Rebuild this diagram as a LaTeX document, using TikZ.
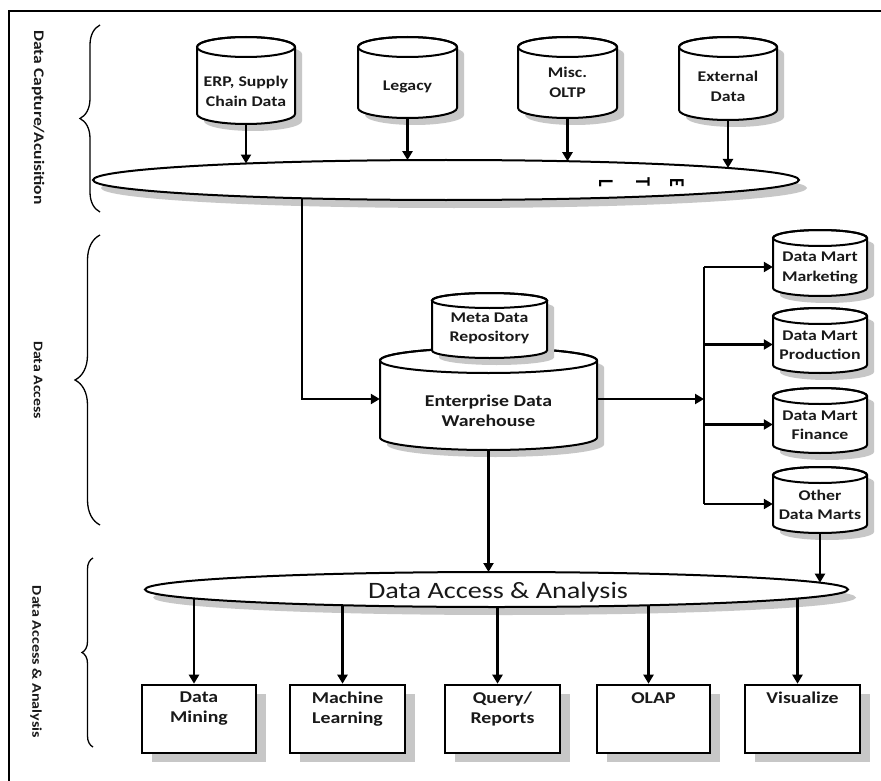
\documentclass[tikz,border=0pt]{standalone}
\usepackage{fontspec}
\setmainfont{Carlito}[FakeStretch=1.2]
\usetikzlibrary{arrows.meta,shapes.geometric,shadows,decorations.pathreplacing,calc}
\tikzset{
  x=1pt, y=1pt,
  ln/.style={line width=2.2pt},
  arr/.style={line width=2.2pt, -{Triangle[length=9pt,width=10pt]}},
  shd/.style={fill=black!22},
  cylbody/.style={fill=white, draw=black, line width=2pt},
  cylline/.style={draw=black, line width=2pt},
  bigell/.style={ellipse, draw, line width=2pt, fill=white, inner sep=0pt,
    drop shadow={shadow xshift=8pt, shadow yshift=-8pt, fill=black!22, opacity=1}},
  outbox/.style={rectangle, draw, line width=2.6pt, fill=white, inner sep=0pt,
    drop shadow={shadow xshift=10pt, shadow yshift=-9pt, fill=black!22, opacity=1}},
  boxtxt/.style={font=\fontsize{16.5}{19.5}\selectfont\bfseries, align=center, text=black!90},
  side/.style={rotate=-90, text=black!90},
  brc/.style={decorate, line width=1.3pt},
  etlch/.style={font=\fontsize{15}{18}\selectfont\bfseries, xscale=1.4, rotate=-90, inner sep=0pt},
}
% #1 name, #2 cx, #3 cy (downwards), #4 width, #5 height, #6 ry, #7 text shift, #8 font size, #9 text
\newcommand\dbcyl[9]{%
  \pgfmathsetmacro\cX{#2}\pgfmathsetmacro\cY{-(#3)}%
  \pgfmathsetmacro\rX{(#4)/2}\pgfmathsetmacro\hH{(#5)/2-(#6)}\pgfmathsetmacro\rY{#6}%
  \pgfmathsetmacro\tY{-(#3)-(#7)}%
  \begin{scope}[shift={(\cX+7,\cY-7)}]
    \path[shd] (-\rX,\hH) -- (-\rX,-\hH) arc[start angle=180,end angle=360,x radius=\rX,y radius=\rY]
      -- (\rX,\hH) arc[start angle=0,end angle=180,x radius=\rX,y radius=\rY] -- cycle;
  \end{scope}
  \begin{scope}[shift={(\cX,\cY)}]
    \path[cylbody] (-\rX,\hH) -- (-\rX,-\hH) arc[start angle=180,end angle=360,x radius=\rX,y radius=\rY]
      -- (\rX,\hH) arc[start angle=0,end angle=180,x radius=\rX,y radius=\rY] -- cycle;
    \draw[cylline] (0,\hH) ellipse [x radius=\rX, y radius=\rY];
  \end{scope}
  \node[inner sep=0pt, minimum width=#4, minimum height=#5] (#1) at (\cX,\cY) {};
  \node[font=\fontsize{#8}{19.5}\selectfont\bfseries, align=center, text=black!90] (#1-t) at (\cX,\tY) {#9};
}
% point on ellipse border: #1 name, #2 cx, #3 cy(down), #4 rx, #5 ry, #6 x, #7 sign(+1 lower,-1 upper)
\newcommand\onell[7]{%
  \pgfmathsetmacro\eY{-(#3)-(#7)*(#5)*sqrt(1-((#6-#2)/(#4))^2)}%
  \coordinate (#1) at (#6,\eY);
}
\begin{document}
\begin{tikzpicture}
\useasboundingbox (0,0) rectangle (881,-781);
\fill[white] (0,0) rectangle (881,-781);
% frame
\draw[line width=2.6pt] (9,-781) -- (9,-11) -- (881,-11);

% side braces and labels
\draw[brc, decoration={brace, amplitude=20pt}] (100,-212) -- (100,-25);
\draw[brc, decoration={brace, amplitude=25pt}] (100,-525) -- (100,-235);
\draw[brc, decoration={brace, amplitude=11pt}] (93,-747) -- (93,-558);
\node[side, font=\fontsize{14.6}{18}\selectfont\bfseries] (lab1) at (38,-117.5) {Data Capture/Acuisition};
\node[side, font=\fontsize{13.2}{16}\selectfont\bfseries] (lab2) at (38,-380) {Data Access};
\node[side, font=\fontsize{13.4}{16}\selectfont\bfseries] (lab3) at (36,-662) {Data Access \& Analysis};

% source cylinders
\dbcyl{erp}{246}{80.5}{98}{87}{10}{11}{14.8}{ERP, Supply\\Chain Data}
\dbcyl{leg}{407.5}{77.5}{99}{81}{10}{9}{14.8}{Legacy}
\dbcyl{oltp}{567.5}{77.5}{99}{81}{10}{5}{14.8}{Misc.\\OLTP}
\dbcyl{ext}{728}{78.5}{98}{83}{10}{8}{14.8}{External\\Data}

% ETL ellipse
\node[bigell, minimum width=706, minimum height=40] (etl) at (446,-180) {};
\node[etlch] (etlL) at (606,-183) {L};
\node[etlch] (etlT) at (643,-182) {T};
\node[etlch] (etlE) at (677,-182.5) {E};

% warehouse
\dbcyl{edw}{488.5}{399}{217}{102}{12.5}{12}{16.5}{Enterprise Data\\Warehouse}
\dbcyl{meta}{489.5}{325.5}{115}{65}{7.5}{3}{14.8}{Meta Data\\Repository}

% data marts
\dbcyl{dm1}{820}{263}{94}{66}{8}{5}{14.8}{Data Mart\\Marketing}
\dbcyl{dm2}{820}{340.5}{94}{65}{8}{5}{14.8}{Data Mart\\Production}
\dbcyl{dm3}{820}{420.5}{94}{65}{8}{5}{14.8}{Data Mart\\Finance}
\dbcyl{dm4}{820}{500}{94}{66}{8}{5}{14.8}{Other\\Data Marts}

% analysis ellipse
\node[bigell, minimum width=703, minimum height=35] (dae) at (496.5,-589.5) {};
\node[font=\fontsize{23.5}{26}\selectfont, text=black!90] (daet) at (498,-592) {Data Access \& Analysis};

% output boxes
\node[outbox, minimum width=114, minimum height=68] (bx1) at (199,-719) {};
\node[outbox, minimum width=115, minimum height=68] (bx2) at (347.5,-719) {};
\node[outbox, minimum width=115, minimum height=68] (bx3) at (502.5,-719) {};
\node[outbox, minimum width=113, minimum height=68] (bx4) at (653.5,-719) {};
\node[outbox, minimum width=115, minimum height=68] (bx5) at (802.5,-719) {};
\node[boxtxt, anchor=north] (bx1t) at ($(bx1.north)+(0,-5)$) {Data\\Mining};
\node[boxtxt, anchor=north] (bx2t) at ($(bx2.north)+(0,-5)$) {Machine\\Learning};
\node[boxtxt, anchor=north] (bx3t) at ($(bx3.north)+(0,-5)$) {Query/\\Reports};
\node[boxtxt, anchor=north] (bx4t) at ($(bx4.north)+(0,-5)$) {OLAP};
\node[boxtxt, anchor=north] (bx5t) at ($(bx5.north)+(0,-5)$) {Visualize};

% border points
\onell{t1}{446}{180}{353}{20}{246}{-1}
\onell{t2}{446}{180}{353}{20}{407.5}{-1}
\onell{t3}{446}{180}{353}{20}{567.5}{-1}
\onell{t4}{446}{180}{353}{20}{728}{-1}
\onell{s5}{446}{180}{353}{20}{302}{1}
\onell{u1}{496.5}{589.5}{351.5}{17.5}{488.5}{-1}
\onell{u2}{496.5}{589.5}{351.5}{17.5}{820}{-1}
\onell{b1}{496.5}{589.5}{351.5}{17.5}{194}{1}
\onell{b2}{496.5}{589.5}{351.5}{17.5}{342.5}{1}
\onell{b3}{496.5}{589.5}{351.5}{17.5}{497.5}{1}
\onell{b4}{496.5}{589.5}{351.5}{17.5}{648.5}{1}
\onell{b5}{496.5}{589.5}{351.5}{17.5}{797.5}{1}
\coordinate (bus) at (704,-399);

% connectors
\draw[arr] (erp.south) -- (t1);
\draw[arr] (leg.south) -- (t2);
\draw[arr] (oltp.south) -- (t3);
\draw[arr] (ext.south) -- (t4);
\draw[arr] (s5) |- (edw.west);
\draw[arr] (edw.east) -- (bus);
\draw[ln] ($(dm1.west -| bus)+(0,-4)$) -- ($(dm4.west -| bus)+(0,-4)$);
\draw[arr] ($(dm1.west -| bus)+(0,-4)$) -- ($(dm1.west)+(0,-4)$);
\draw[arr] ($(dm2.west -| bus)+(0,-4)$) -- ($(dm2.west)+(0,-4)$);
\draw[arr] ($(dm3.west -| bus)+(0,-4)$) -- ($(dm3.west)+(0,-4)$);
\draw[arr] ($(dm4.west -| bus)+(0,-4)$) -- ($(dm4.west)+(0,-4)$);
\draw[arr] (edw.south) -- (u1);
\draw[arr] (dm4.south) -- (u2);
\draw[arr] (b1) -- (b1 |- bx1.north);
\draw[arr] (b2) -- (b2 |- bx2.north);
\draw[arr] (b3) -- (b3 |- bx3.north);
\draw[arr] (b4) -- (b4 |- bx4.north);
\draw[arr] (b5) -- (b5 |- bx5.north);
\end{tikzpicture}
\end{document}
